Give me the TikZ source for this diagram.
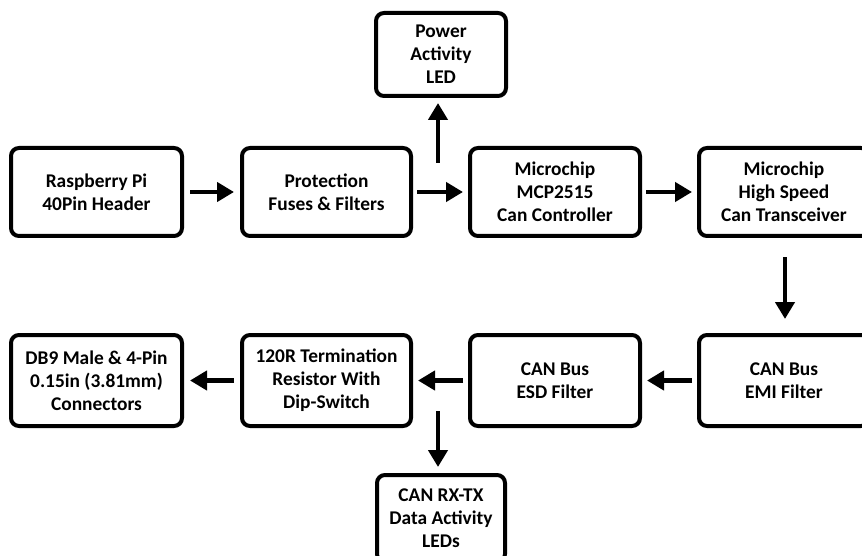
\documentclass[tikz,border=0pt]{standalone}
\usepackage{fontspec}
\setmainfont{Carlito}
\usetikzlibrary{arrows.meta}
\tikzset{
  blk/.style={draw=black, line width=4pt, rounded corners=8pt, align=center,
    inner sep=0pt, minimum width=170pt, minimum height=88pt,
    font=\bfseries\fontsize{19.4}{23}\selectfont},
  arr/.style={line width=4.5pt, -{Triangle[length=17pt,width=19pt]}},
}
\begin{document}
\begin{tikzpicture}[x=1pt,y=-1pt]
\useasboundingbox (0,0) rectangle (862,556);
\clip (0,0) rectangle (862,556);
% row 1
\node[blk, minimum width=171pt] (rpi) at (96.5,192) {Raspberry Pi\\40Pin Header};
\node[blk, minimum width=169pt] (prot) at (326.5,192) {Protection\\Fuses \& Filters};
\node[blk] (mcp) at (555,192) {Microchip\\MCP2515\\Can Controller};
\node[blk] (trx) at (784,192) {Microchip\\High Speed\\Can Transceiver};
\node[blk, minimum width=130pt, minimum height=83pt] (pled) at (441,54.5) {Power\\Activity\\LED};
% row 2
\node[blk, minimum width=171pt, minimum height=91pt] (db9) at (96.5,380.5) {DB9 Male \& 4-Pin\\0.15in (3.81mm)\\Connectors};
\node[blk, minimum width=169pt, minimum height=91pt] (term) at (326.5,380.5) {120R Termination\\Resistor With\\Dip-Switch};
\node[blk, minimum height=91pt] (esd) at (555,380.5) {CAN Bus\\ESD Filter};
\node[blk, minimum height=91pt] (emi) at (784,380.5) {CAN Bus\\EMI Filter};
\node[blk, minimum width=128pt, minimum height=87pt] (leds) at (441,518.5) {CAN RX-TX\\Data Activity\\LEDs};
% free ends
\coordinate (up0) at (438,163);
\coordinate (dn0) at (438,411);
% connectors
\draw[arr, shorten <=6pt, shorten >=6pt] (rpi.east) -- (prot.west);
\draw[arr, shorten <=4pt, shorten >=5pt] (prot.east) -- (mcp.west);
\draw[arr, shorten <=4pt, shorten >=5pt] (mcp.east) -- (trx.west);
\draw[arr, shorten >=5pt] (up0) -- (up0 |- pled.south);
\draw[arr, shorten <=19pt, shorten >=14pt] (trx.south -| 785,0) -- (emi.north -| 785,0);
\draw[arr, shorten <=5pt, shorten >=5pt] (emi.west) -- (esd.east);
\draw[arr, shorten <=5pt, shorten >=5pt] (esd.west) -- (term.east);
\draw[arr, shorten <=6pt, shorten >=6pt] (term.west) -- (db9.east);
\draw[arr, shorten >=6pt] (dn0) -- (dn0 |- leds.north);
\end{tikzpicture}
\end{document}
